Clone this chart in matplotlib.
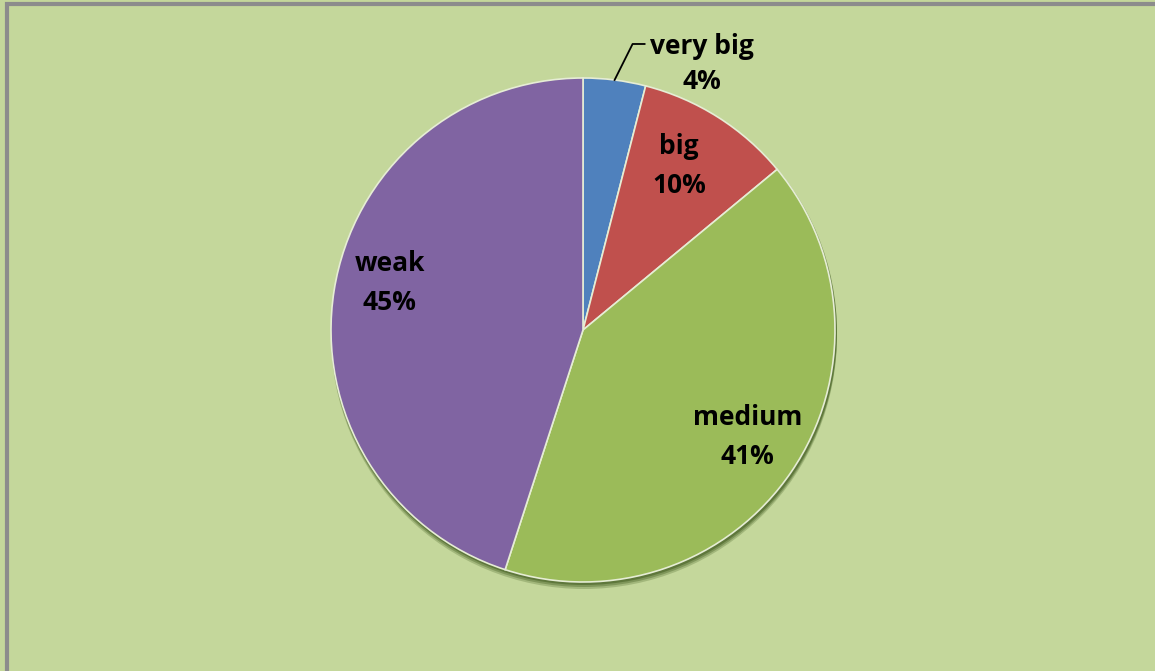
import numpy as np
import matplotlib.pyplot as plt
from matplotlib.patches import Circle, Rectangle

# slice data
names = ["very big", "big", "medium", "weak"]
shares = [4, 10, 41, 45]
colors = ["#4F81BD", "#C0504D", "#9BBB59", "#8064A2"]

bg = "#C4D79B"
W, H = 1155, 671

fig = plt.figure(figsize=(W / 100, H / 100), dpi=100)
fig.patch.set_facecolor(bg)
ax = fig.add_axes([0, 0, 1, 1])

# chart frame (only top/left edges visible)
ax.add_patch(Rectangle((6.5, -20), W + 40, H - 3.5 + 20, fill=False,
                       edgecolor="#8C8C8C", linewidth=3, zorder=1))

cx, cy, r = 583, 671 - 330, 252

# soft shadow under the pie
for k, a in zip([6, 4, 2], [0.25, 0.35, 0.5]):
    ax.add_patch(Circle((cx + 1, cy - k), r + 1, color="#3F5A1E", alpha=a,
                        linewidth=0, zorder=2))

wedges, _ = ax.pie(shares, colors=colors, startangle=90, counterclock=False,
                   center=(cx, cy), radius=r, frame=True,
                   wedgeprops=dict(edgecolor="#E6EDD5", linewidth=1.2))
for w in wedges:
    w.set_zorder(3)
ax.set_xlim(0, W)
ax.set_ylim(0, H)
ax.set_aspect("equal")
ax.axis("off")

font = dict(family=["Open Sans", "DejaVu Sans"], fontsize=19,
            fontweight="bold", color="black", ha="center", va="center",
            linespacing=1.55, zorder=5)

dist = [None, 0.755, 0.78, 0.79]
shift = [0, 2.1, 1.2, -4.7]
for i, w in enumerate(wedges):
    mid = np.deg2rad((w.theta1 + w.theta2) / 2)
    lbl = "%s\n%d%%" % (names[i], shares[i])
    if dist[i] is None:
        # outside label with leader line
        px, py = cx + r * np.cos(mid), cy + r * np.sin(mid)
        ax.plot([px, px + 18, px + 30], [py, py + 36, py + 36],
                color="black", linewidth=1.3, zorder=5)
        ax.text(px + 87, py + 16, lbl, **dict(font, linespacing=1.4))
    else:
        a = mid + np.deg2rad(shift[i])
        ax.text(cx + dist[i] * r * np.cos(a), cy + dist[i] * r * np.sin(a),
                lbl, **font)

fig.savefig("out.png", dpi=100, facecolor=bg)
